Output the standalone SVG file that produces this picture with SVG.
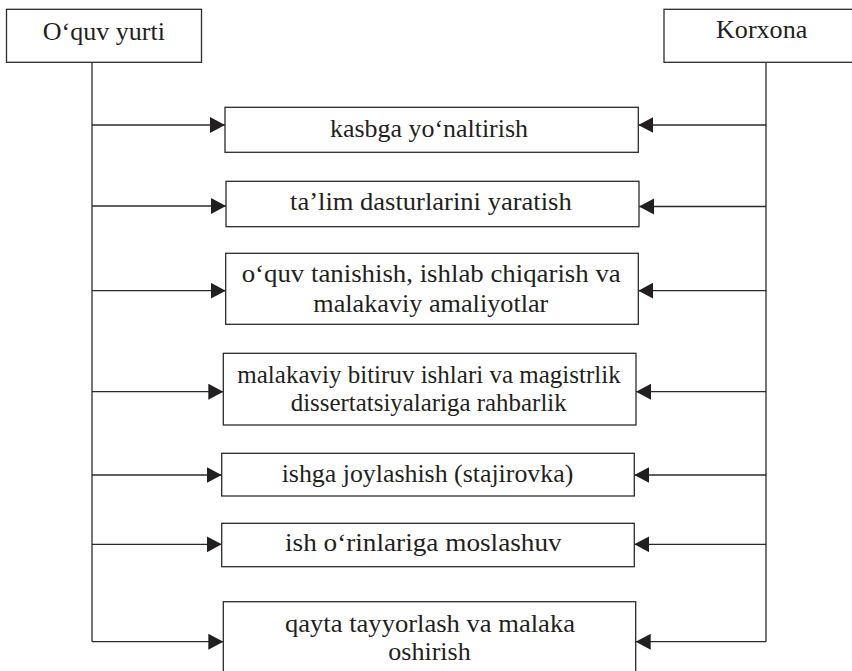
<svg xmlns="http://www.w3.org/2000/svg" width="852" height="671" viewBox="0 0 852 671">
<style>
  .box { fill: #ffffff; stroke: #2b2b2b; stroke-width: 1.3; }
  .ln { fill: none; stroke: #2b2b2b; stroke-width: 1.3; }
  .t { font-family: 'Liberation Serif', 'Times New Roman', serif; font-size: 25px; fill: #231f20; }
  .th { font-family: 'Liberation Serif', 'Times New Roman', serif; font-size: 26px; fill: #231f20; }
</style>
<defs>
  <marker id="ah" markerUnits="userSpaceOnUse" markerWidth="16" markerHeight="17" refX="15" refY="8" orient="auto">
    <path d="M0,0 L15,8 L0,16 z" fill="#231f20"/>
  </marker>
</defs>
<rect width="852" height="671" fill="#ffffff"/>

<g id="connectors">
  <line class="ln" x1="92" y1="62.3" x2="92" y2="641.7"/>
  <line class="ln" x1="766" y1="62.3" x2="766" y2="641.7"/>
  <line class="ln" x1="92" y1="125" x2="225" y2="125" marker-end="url(#ah)"/>
  <line class="ln" x1="92" y1="206" x2="226" y2="206" marker-end="url(#ah)"/>
  <line class="ln" x1="92" y1="290.7" x2="225.7" y2="290.7" marker-end="url(#ah)"/>
  <line class="ln" x1="92" y1="391.7" x2="223.3" y2="391.7" marker-end="url(#ah)"/>
  <line class="ln" x1="92" y1="475" x2="221.7" y2="475" marker-end="url(#ah)"/>
  <line class="ln" x1="92" y1="544.3" x2="221.7" y2="544.3" marker-end="url(#ah)"/>
  <line class="ln" x1="92" y1="641.7" x2="223.3" y2="641.7" marker-end="url(#ah)"/>
  <line class="ln" x1="766" y1="125" x2="638.3" y2="125" marker-end="url(#ah)"/>
  <line class="ln" x1="766" y1="206.5" x2="639" y2="206.5" marker-end="url(#ah)"/>
  <line class="ln" x1="766" y1="290.7" x2="638.3" y2="290.7" marker-end="url(#ah)"/>
  <line class="ln" x1="766" y1="391.7" x2="636" y2="391.7" marker-end="url(#ah)"/>
  <line class="ln" x1="766" y1="475" x2="634.3" y2="475" marker-end="url(#ah)"/>
  <line class="ln" x1="766" y1="544.3" x2="634.3" y2="544.3" marker-end="url(#ah)"/>
  <line class="ln" x1="766" y1="641.7" x2="635.7" y2="641.7" marker-end="url(#ah)"/>
</g>

<g id="oquv-yurti">
  <rect class="box" x="6.5" y="9.3" width="195" height="53"/>
  <text class="th" x="42.7" y="40" textLength="122.3" lengthAdjust="spacingAndGlyphs">O‘quv yurti</text>
</g>
<g id="korxona">
  <rect class="box" x="664" y="9.3" width="200" height="53"/>
  <text class="th" x="716" y="37.5" textLength="91.3" lengthAdjust="spacingAndGlyphs">Korxona</text>
</g>

<g id="n1">
  <rect class="box" x="225" y="107.3" width="413.3" height="45"/>
  <text class="t" x="330" y="136.7" textLength="198" lengthAdjust="spacingAndGlyphs">kasbga yo‘naltirish</text>
</g>
<g id="n2">
  <rect class="box" x="226" y="181.3" width="413" height="45.4"/>
  <text class="t" x="290" y="210" textLength="281.7" lengthAdjust="spacingAndGlyphs">ta’lim dasturlarini yaratish</text>
</g>
<g id="n3">
  <rect class="box" x="225.7" y="253.3" width="412.6" height="71"/>
  <text class="t" x="241.7" y="282.3" textLength="379" lengthAdjust="spacingAndGlyphs">o‘quv tanishish, ishlab chiqarish va</text>
  <text class="t" x="313.3" y="311.7" textLength="235" lengthAdjust="spacingAndGlyphs">malakaviy amaliyotlar</text>
</g>
<g id="n4">
  <rect class="box" x="223.3" y="353.3" width="412.7" height="71.7"/>
  <text class="t" x="237.3" y="383.3" textLength="383.4" lengthAdjust="spacingAndGlyphs">malakaviy bitiruv ishlari va magistrlik</text>
  <text class="t" x="290.7" y="411" textLength="276" lengthAdjust="spacingAndGlyphs">dissertatsiyalariga rahbarlik</text>
</g>
<g id="n5">
  <rect class="box" x="221.7" y="453.3" width="412.6" height="42.7"/>
  <text class="t" x="281.7" y="481.7" textLength="291.6" lengthAdjust="spacingAndGlyphs">ishga joylashish (stajirovka)</text>
</g>
<g id="n6">
  <rect class="box" x="221.7" y="523.3" width="412.6" height="43.4"/>
  <text class="t" x="285" y="551" textLength="276.7" lengthAdjust="spacingAndGlyphs">ish o‘rinlariga moslashuv</text>
</g>
<g id="n7">
  <rect class="box" x="223.3" y="601.7" width="412.4" height="80"/>
  <text class="t" x="285" y="631.7" textLength="290" lengthAdjust="spacingAndGlyphs">qayta tayyorlash va malaka</text>
  <text class="t" x="388.3" y="660" textLength="82.4" lengthAdjust="spacingAndGlyphs">oshirish</text>
</g>
</svg>
